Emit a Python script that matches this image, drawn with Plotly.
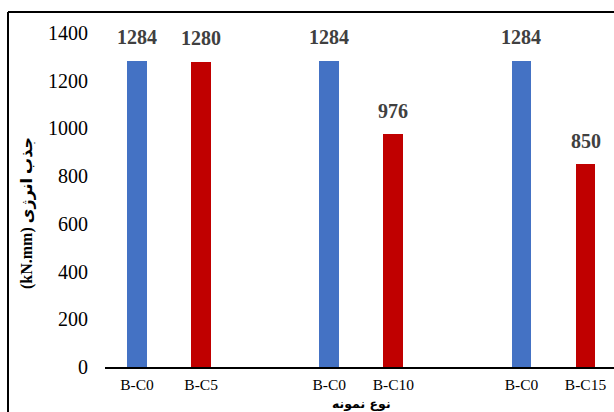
import plotly.graph_objects as go

# Specimen groups: each pair is a control beam (B-C0) and a test beam
groups = [["B-C0", "B-C5"], ["B-C0", "B-C10"], ["B-C0", "B-C15"]]
energy = [[1284, 1280], [1284, 976], [1284, 850]]  # energy absorption, kN.mm
pair_colors = ["#4472C4", "#C00000"]

y_ticks = [0, 200, 400, 600, 800, 1000, 1200, 1400]

# Flatten groups, leaving one empty slot between consecutive pairs
xs, labels, vals, cols = [], [], [], []
for g, (names, values) in enumerate(zip(groups, energy)):
    for m, (name, v) in enumerate(zip(names, values)):
        xs.append(g * 3 + m)
        labels.append(name)
        vals.append(v)
        cols.append(pair_colors[m])

W, H = 614, 412
L, R, T, B = 105, 0, 33, 45
pw, ph = W - L - R, H - T - B

fig = go.Figure()
fig.add_trace(go.Bar(
    x=xs, y=vals, width=0.31,
    marker=dict(color=cols, line=dict(width=0)),
    hoverinfo="x+y", showlegend=False,
))

serif = "Liberation Serif, Times New Roman, serif"
arabic = "Liberation Serif, DejaVu Sans, sans-serif"

annotations = []
for x, v in zip(xs, vals):
    annotations.append(dict(
        x=x, y=v, xref="x", yref="y", text=f"<b>{v}</b>", showarrow=False,
        yanchor="middle", yshift=23.5,
        font=dict(family=serif, size=20, color="#404040"),
    ))

# axis titles
annotations.append(dict(
    x=(361 - L) / pw, y=(H - B - 403) / ph, xref="paper", yref="paper",
    text="<b>نوع نمونه</b>", showarrow=False, xanchor="center", yanchor="middle",
    font=dict(family="DejaVu Sans, sans-serif", size=12.5, color="#000000"),
))
annotations.append(dict(
    x=(27 - L) / pw, y=(H - B - 213) / ph, xref="paper", yref="paper",
    text="<b>(kN.mm) جذب انرژی</b>", showarrow=False, textangle=-90,
    xanchor="center", yanchor="middle",
    font=dict(family=arabic, size=16, color="#000000"),
))

# outer frame (left and top edges)
fx = (8 - L) / pw
fy = (H - B - 12) / ph
shapes = [
    dict(type="line", xref="paper", yref="paper", x0=fx, x1=fx, y0=fy, y1=-B / ph - 0.05,
         line=dict(color="#000000", width=2)),
    dict(type="line", xref="paper", yref="paper", x0=fx, x1=1.05, y0=fy, y1=fy,
         line=dict(color="#000000", width=2)),
]

fig.update_layout(
    width=W, height=H,
    margin=dict(l=L, r=R, t=T, b=B, pad=0),
    paper_bgcolor="white", plot_bgcolor="white",
    annotations=annotations, shapes=shapes,
    bargap=0,
    xaxis=dict(
        range=[-0.5, (W - L) / 64.07 - 0.5],
        tickmode="array", tickvals=xs, ticktext=labels,
        showgrid=False, zeroline=False,
        showline=True, linecolor="#000000", linewidth=1.5,
        ticks="", ticklabelstandoff=3,
        tickfont=dict(family=serif, size=15.5, color="#000000"),
        fixedrange=True,
    ),
    yaxis=dict(
        range=[0, 1400],
        tickmode="array", tickvals=y_ticks,
        showgrid=False, zeroline=False, showline=False,
        ticks="", ticklabelstandoff=16,
        tickfont=dict(family=serif, size=20, color="#000000"),
        fixedrange=True,
    ),
)

fig.write_html("out.html")
